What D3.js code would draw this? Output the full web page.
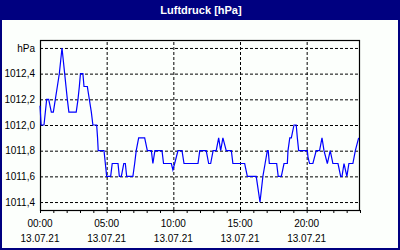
<!DOCTYPE html>
<html>
<head>
<meta charset="utf-8">
<script src="https://cdn.jsdelivr.net/npm/d3@7"></script>
<style>
  html, body { margin: 0; padding: 0; background: #fff; }
  svg { display: block; }
  text { font-family: "Liberation Sans", Arial, sans-serif; }
</style>
</head>
<body>
<div id="chart"></div>
<script>
const title = 'Luftdruck [hPa]'
const day = '13.07.21'

// Messzeitpunkte (13.07.21) und Luftdruck in hPa
const times = [
  '00:00', '00:05', '00:18', '00:30', '00:39', '00:51', '01:00', '01:09', '01:18', '01:27',
  '01:33', '01:39', '01:45', '01:51', '01:57', '02:03', '02:10', '02:43', '02:51', '02:57',
  '03:02', '03:13', '03:18', '03:33', '03:42', '03:51', '03:58', '04:15', '04:19', '04:22',
  '04:48', '04:54', '05:00', '05:18', '05:25', '05:51', '05:57', '06:06', '06:17', '06:24',
  '06:30', '06:58', '07:06', '07:13', '07:24', '07:51', '08:03', '08:21', '08:28', '08:37',
  '09:09', '09:16', '09:51', '09:58', '10:06', '10:21', '10:39', '10:48', '11:51', '11:59',
  '12:28', '12:39', '12:48', '12:59', '13:13', '13:24', '13:33', '13:43', '13:58', '14:21',
  '14:28', '15:21', '15:33', '16:13', '16:30', '16:43', '16:53', '17:03', '17:07', '17:12',
  '17:45', '17:52', '18:06', '18:18', '18:33', '18:36', '18:44', '18:51', '19:03', '19:13',
  '19:18', '19:24', '20:03', '20:06', '20:13', '20:28', '20:43', '20:58', '21:09', '21:18',
  '21:33', '21:46', '21:58', '22:21', '22:33', '22:39', '22:48', '23:01', '23:10', '23:28',
  '23:39', '23:54'
]
const pressure = [
  1012.15, 1012.0, 1012.0, 1012.2, 1012.2, 1012.1, 1012.1, 1012.2, 1012.3, 1012.4,
  1012.5, 1012.6, 1012.5, 1012.4, 1012.3, 1012.2, 1012.1, 1012.1, 1012.2, 1012.3,
  1012.4, 1012.4, 1012.3, 1012.3, 1012.2, 1012.1, 1012.0, 1012.0, 1011.9, 1011.8,
  1011.8, 1011.7, 1011.6, 1011.6, 1011.7, 1011.7, 1011.6, 1011.6, 1011.7, 1011.7,
  1011.6, 1011.6, 1011.7, 1011.8, 1011.9, 1011.9, 1011.8, 1011.8, 1011.7, 1011.8,
  1011.8, 1011.7, 1011.7, 1011.65, 1011.7, 1011.8, 1011.8, 1011.7, 1011.7, 1011.8,
  1011.8, 1011.7, 1011.7, 1011.8, 1011.8, 1011.9, 1011.8, 1011.9, 1011.8, 1011.8,
  1011.7, 1011.7, 1011.6, 1011.6, 1011.4, 1011.6, 1011.7, 1011.8, 1011.8, 1011.7,
  1011.7, 1011.6, 1011.6, 1011.7, 1011.7, 1011.8, 1011.9, 1011.9, 1012.0, 1012.0,
  1011.9, 1011.8, 1011.8, 1011.75, 1011.7, 1011.7, 1011.8, 1011.8, 1011.9, 1011.8,
  1011.7, 1011.8, 1011.7, 1011.7, 1011.6, 1011.6, 1011.7, 1011.6, 1011.7, 1011.7,
  1011.8, 1011.9
]

const yTicks = [1011.4, 1011.6, 1011.8, 1012.0, 1012.2, 1012.4, 1012.6]
const yTickLabels = ['1011,4', '1011,6', '1011,8', '1012,0', '1012,2', '1012,4', 'hPa']
const xTickHours = [0, 5, 10, 15, 20]

const w = 400
const h = 250
const plotLeft = 40
const plotRight = 360
const plotTop = 40
const plotBottom = 210
const navy = '#000080'

const parseTime = d3.timeParse('%d.%m.%y %H:%M')
const start = parseTime(day + ' 00:00')
const end = d3.timeDay.offset(start, 1)
const dataset = times.map((t, i) => ({ date: parseTime(day + ' ' + t), value: pressure[i] }))

const xScale = d3.scaleTime().domain([start, end]).range([plotLeft, plotRight])
const yScale = d3.scaleLinear().domain([1011.338, 1012.662]).range([plotBottom, plotTop])

const svg = d3.select('#chart')
              .append('svg')
              .attr('width', w)
              .attr('height', h)

svg.append('rect')
   .attr('x', 0).attr('y', 0)
   .attr('width', w).attr('height', h)
   .attr('fill', '#fcfffc')

// Titelleiste
svg.append('rect')
   .attr('x', 0).attr('y', 0)
   .attr('width', w).attr('height', 20)
   .attr('fill', navy)

svg.append('text')
   .attr('x', w / 2 + 1)
   .attr('y', 14)
   .attr('text-anchor', 'middle')
   .attr('fill', '#fff')
   .attr('font-weight', 'bold')
   .attr('font-size', '11px')
   .text(title)

// Rahmen
svg.append('rect')
   .attr('x', 1).attr('y', 1)
   .attr('width', w - 2).attr('height', h - 2)
   .attr('fill', 'none')
   .attr('stroke', navy)
   .attr('stroke-width', 2)

// Gitter
const hourTicks = xTickHours.slice(1).map(hr => d3.timeHour.offset(start, hr))

svg.append('g')
   .attr('transform', 'translate(0,' + plotBottom + ')')
   .call(d3.axisBottom(xScale).tickValues(hourTicks).tickSize(-(plotBottom - plotTop)).tickFormat(''))
   .call(g => g.select('.domain').remove())
   .call(g => g.selectAll('line').attr('stroke', '#000').attr('stroke-dasharray', '3,2'))

svg.append('g')
   .attr('transform', 'translate(' + plotLeft + ',0)')
   .call(d3.axisLeft(yScale).tickValues(yTicks).tickSize(-(plotRight - plotLeft)).tickFormat((d, i) => yTickLabels[i]).tickPadding(5))
   .call(g => g.select('.domain').remove())
   .call(g => g.selectAll('line').attr('stroke', '#000').attr('stroke-dasharray', '3,2'))
   .call(g => g.selectAll('text').attr('font-size', '10px').attr('fill', '#000').attr('font-family', null))

// Stundenstriche
svg.append('g')
   .attr('transform', 'translate(0,' + plotBottom + ')')
   .call(d3.axisBottom(xScale).ticks(d3.timeHour.every(1)).tickSize(3).tickFormat(''))
   .call(g => g.select('.domain').remove())
   .call(g => g.selectAll('line').attr('stroke', '#000'))

// Beschriftung x
const xLabels = svg.append('g')
                   .selectAll('text')
                   .data(xTickHours)
                   .enter()
                   .append('text')
                   .attr('x', d => xScale(d3.timeHour.offset(start, d)))
                   .attr('text-anchor', 'middle')
                   .attr('font-size', '10px')
                   .attr('fill', '#000')

xLabels.append('tspan')
       .attr('y', 227)
       .text(d => d3.timeFormat('%H:%M')(d3.timeHour.offset(start, d)))

xLabels.append('tspan')
       .attr('x', d => xScale(d3.timeHour.offset(start, d)))
       .attr('y', 242)
       .text(day)

// Diagrammrahmen
svg.append('rect')
   .attr('x', plotLeft + 0.5).attr('y', plotTop + 0.5)
   .attr('width', plotRight - plotLeft - 1).attr('height', plotBottom - plotTop)
   .attr('fill', 'none')
   .attr('stroke', '#000')
   .attr('stroke-width', 1.2)

const line = d3.line()
               .x(d => xScale(d.date))
               .y(d => yScale(d.value))

svg.append('path')
   .datum(dataset)
   .attr('d', line)
   .attr('fill', 'none')
   .attr('stroke', '#0000ff')
   .attr('stroke-width', 1.2)
</script>
</body>
</html>
